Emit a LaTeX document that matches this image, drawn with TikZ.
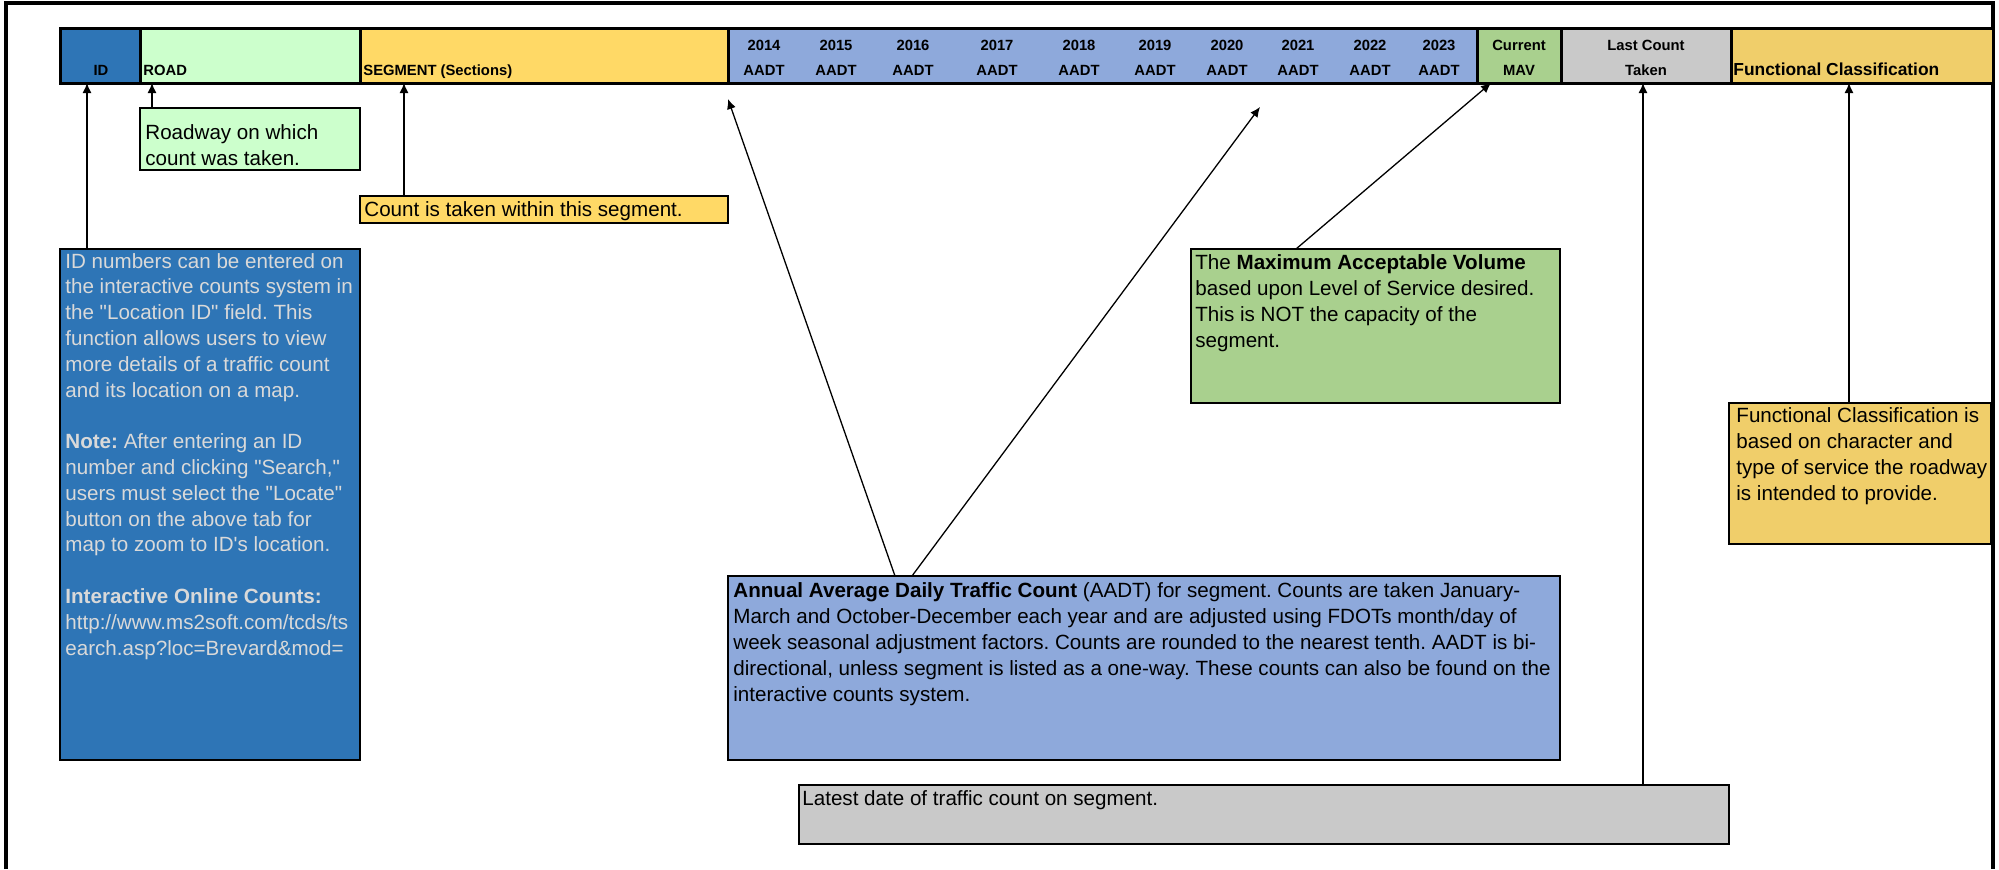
\documentclass[tikz,border=0pt]{standalone}
\usepackage{fontspec}
\setmainfont{Liberation Sans}[Ligatures=TeXOff]
\usetikzlibrary{positioning, arrows.meta}
\definecolor{idblue}{HTML}{2E75B6}
\definecolor{roadgreen}{HTML}{CCFFCC}
\definecolor{segyellow}{HTML}{FFD966}
\definecolor{aadtblue}{HTML}{8EA9DB}
\definecolor{mavgreen}{HTML}{A9D08E}
\definecolor{lastgray}{HTML}{C9C9C9}
\definecolor{funcgold}{HTML}{F0CE6A}
\definecolor{idtext}{HTML}{D9D9D9}
\frenchspacing

\begin{document}
\begin{tikzpicture}[x = 0.5pt, y = -0.5pt,
  cell/.style = {draw, line width = 1.5pt, minimum height = 27.5pt, inner sep = 0pt, outer sep = 0pt},
  note/.style = {draw, line width = 1pt, anchor = north west, inner sep = 0pt, outer sep = 0pt},
  head/.style = {anchor = base, inner sep = 0pt, font = \bfseries\fontsize{7.4}{9}\selectfont},
  txt/.style = {anchor = base west, align = left, inner sep = 0pt, font = \fontsize{10.3}{12.9}\selectfont\frenchspacing},
  link/.style = {-{Latex[length = 5pt, width = 4.5pt]}, line width = 0.65pt}]
  \useasboundingbox (0, 0) rectangle (1999, 869);
  \draw[line width = 2pt] (6, 869) -- (6, 3) -- (1993, 3) -- (1993, 869);
  \node[cell, fill = idblue, minimum width = 40pt, anchor = north west] at (60, 28) (hid) {};
  \node[cell, fill = roadgreen, minimum width = 110pt, right = 0pt of hid] (hroad) {};
  \node[cell, fill = segyellow, minimum width = 184pt, right = 0pt of hroad] (hseg) {};
  \node[cell, fill = aadtblue, minimum width = 374.5pt, right = 0pt of hseg] (haadt) {};
  \node[cell, fill = mavgreen, minimum width = 42pt, right = 0pt of haadt] (hmav) {};
  \node[cell, fill = lastgray, minimum width = 85pt, right = 0pt of hmav] (hlast) {};
  \node[cell, fill = funcgold, minimum width = 131pt, right = 0pt of hlast] (hfunc) {};
  \node[head] at (101, 75) (lid) {ID};
  \node[head, anchor = base west] at (143, 75) (lroad) {ROAD};
  \node[head, anchor = base west] at (363, 75) (lseg) {SEGMENT (Sections)};
  \foreach \x/\yr in {764/2014, 836/2015, 913/2016, 997/2017, 1079/2018, 1155/2019, 1227/2020, 1298/2021, 1370/2022, 1439/2023}
  {
  \node[head] at (\x, 50) (y\yr) {\yr};
  \node[head] at (\x, 75) (a\yr) {AADT};
  }
  \node[head] at (1519, 50) (lcur) {Current};
  \node[head] at (1519, 75) (lmav) {MAV};
  \node[head] at (1646, 50) (llast) {Last Count};
  \node[head] at (1646, 75) (ltaken) {Taken};
  \node[head, anchor = base west, font = \bfseries\fontsize{8.7}{10}\selectfont] at (1733, 75) (lfunc) {Functional Classification};
  \node[note, fill = roadgreen, minimum width = 110pt, minimum height = 31pt] at (140, 108) (roadnote) {};
  \node[note, fill = segyellow, minimum width = 184pt, minimum height = 13.5pt] at (360, 196) (segnote) {};
  \node[note, fill = idblue, minimum width = 150pt, minimum height = 255.5pt] at (60, 249) (idnote) {};
  \node[note, fill = mavgreen, minimum width = 184.5pt, minimum height = 77pt] at (1191, 249) (mavnote) {};
  \node[note, fill = funcgold, minimum width = 131pt, minimum height = 70.5pt] at (1729, 403) (funcnote) {};
  \node[note, fill = aadtblue, minimum width = 416pt, minimum height = 92pt] at (728, 576) (aadtnote) {};
  \node[note, fill = lastgray, minimum width = 465pt, minimum height = 29.5pt] at (799, 785) (lastnote) {};
  % multi-line texts sit on the baseline of their last line
  \node[txt] at (145, 165) (roadtxt) {Roadway on which\\count was taken.};
  \node[txt] at (364, 216) (segtxt) {Count is taken within this segment.};
  \node[txt, text = idtext] at (65, 655) (idtxt) {ID numbers can be entered on\\the interactive counts system in\\the "Location ID" field. This\\function allows users to view\\more details of a traffic count\\and its location on a map.\\[12.9pt]
    \textbf{Note:} After entering an ID\\number and clicking "Search,"\\users must select the "Locate"\\button on the above tab for\\map to zoom to ID's location.\\[12.9pt]
    \textbf{Interactive Online Counts:}\\http://www.ms2soft.com/tcds/ts\\earch.asp?loc=Brevard\&mod=};
  \node[txt] at (1195, 347) (mavtxt) {The \textbf{Maximum Acceptable Volume}\\based upon Level of Service desired.\\This is NOT the capacity of the\\segment.};
  \node[txt] at (1736, 500) (functxt) {Functional Classification is\\based on character and\\type of service the roadway\\is intended to provide.};
  \node[txt] at (733, 701) (aadttxt) {\textbf{Annual Average Daily Traffic Count} (AADT) for segment. Counts are taken January-\\March and October-December each year and are adjusted using FDOTs month/day of\\week seasonal adjustment factors. Counts are rounded to the nearest tenth. AADT is bi-\\directional, unless segment is listed as a one-way. These counts can also be found on the\\interactive counts system.};
  \node[txt] at (802, 805) (lasttxt) {Latest date of traffic count on segment.};
  \coordinate (xid) at (87, 0);
  \coordinate (xroad) at (152, 0);
  \coordinate (xseg) at (404, 0);
  \coordinate (xaadt) at (895, 0);
  \coordinate (xaadtb) at (912, 0);
  \coordinate (xmav) at (1296, 0);
  \coordinate (xmavtip) at (1491, 0);
  \coordinate (xlast) at (1643, 0);
  \coordinate (xfunc) at (1849, 0);
  \coordinate (taadt) at (728, 99);
  \coordinate (taadtb) at (1260, 107);
  \draw[link] (idnote.north -| xid) -- (hid.south -| xid);
  \draw[link] (roadnote.north -| xroad) -- (hroad.south -| xroad);
  \draw[link] (segnote.north -| xseg) -- (hseg.south -| xseg);
  \draw[link] (aadtnote.north -| xaadt) -- (taadt);
  \draw[link] (aadtnote.north -| xaadtb) -- (taadtb);
  \draw[link] (mavnote.north -| xmav) -- (hmav.south -| xmavtip);
  \draw[link] (lastnote.north -| xlast) -- (hlast.south -| xlast);
  \draw[link] (funcnote.north -| xfunc) -- (hfunc.south -| xfunc);
\end{tikzpicture}
\end{document}
